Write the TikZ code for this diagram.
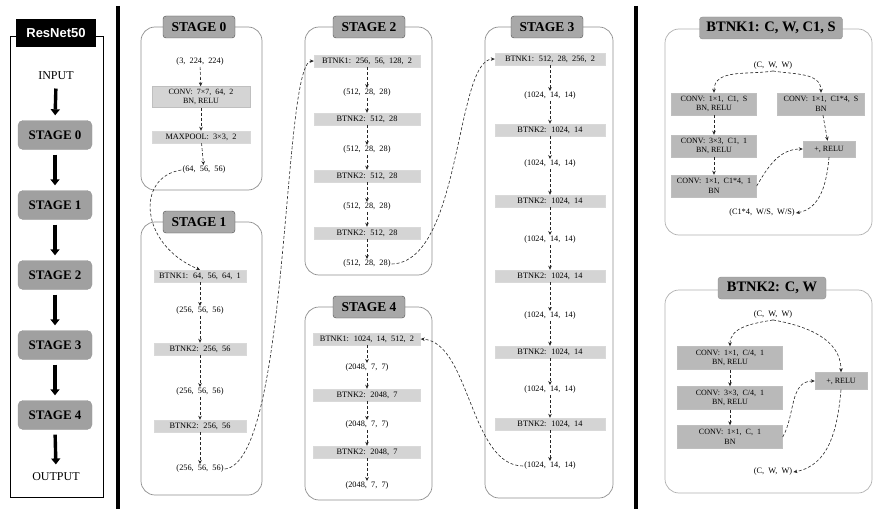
\documentclass[tikz,border=0pt]{standalone}
\usepackage{fontspec}
\setmainfont{Liberation Serif}
\newfontfamily\netfont{Liberation Sans}
\usetikzlibrary{arrows.meta,calc}
\definecolor{titlegray}{HTML}{A8A8A8}
\definecolor{layergray}{HTML}{D4D4D4}
\definecolor{convgray}{HTML}{B9B9B9}
\definecolor{framegray}{HTML}{8E8E8E}

\begin{document}
\begin{tikzpicture}[x=1pt,y=-1pt,
  panel/.style={draw=framegray, line width=0.7pt, rounded corners=14pt},
  stagetitle/.style={draw=black!70, fill=titlegray, rounded corners=3pt,
    minimum width=72pt, minimum height=22pt, inner sep=1pt,
    font=\fontsize{13.5}{13.5}\selectfont\bfseries},
  stagebox/.style={draw=black!40, fill=titlegray!95!black, rounded corners=5pt,
    minimum width=74pt, minimum height=29pt, inner sep=1pt,
    font=\fontsize{13}{13}\selectfont\bfseries},
  layer/.style={fill=layergray, draw=black!15, minimum height=12pt, inner sep=1pt,
    font=\fontsize{8.3}{8.3}\selectfont},
  conv/.style={fill=convgray, draw=black!25, minimum height=22pt, inner sep=1pt,
    align=center, font=\fontsize{8}{9.5}\selectfont},
  dims/.style={inner sep=1pt, font=\fontsize{8.3}{8.3}\selectfont},
  flow/.style={draw=black!85, line width=0.6pt, dash pattern=on 3pt off 2pt,
    -{Stealth[length=4pt,width=3.5pt]}},
  bigarrow/.style={line width=3.4pt, shorten <=5pt, shorten >=5pt,
    -{Triangle[length=6pt,width=9pt]}}]
\useasboundingbox (0,0) rectangle (879,511);

% separators
\draw[line width=4pt] (118,6) -- (118,509);
\draw[line width=4pt] (636,6) -- (636,509);

% overview
\draw[line width=0.8pt] (10,36) rectangle (103,497);
\node[fill=black, text=white, minimum width=80pt, minimum height=28pt, inner sep=1pt,
      font=\netfont\fontsize{13}{13}\selectfont\bfseries] (net) at (56,33) {ResNet50};
\node[font=\fontsize{12}{12}\selectfont] (input) at (56,76) {INPUT};
\foreach \i/\y in {0/135,1/205,2/275,3/345,4/415}
  \node[stagebox] (ov\i) at (55,\y) {STAGE \i};
\node[font=\fontsize{12}{12}\selectfont] (output) at (56,477) {OUTPUT};
\draw[bigarrow] (input.south) -- (ov0.north);
\draw[bigarrow] (ov0.south) -- (ov1.north);
\draw[bigarrow] (ov1.south) -- (ov2.north);
\draw[bigarrow] (ov2.south) -- (ov3.north);
\draw[bigarrow] (ov3.south) -- (ov4.north);
\draw[bigarrow] (ov4.south) -- (output.north);

% stage 0
\draw[panel] (141,27) rectangle (262,190);
\node[stagetitle] (t0) at (199,27) {STAGE 0};
\node[dims] (s0in) at (200,62) {(3, \ 224, \ 224)};
\node[conv, minimum width=98pt, minimum height=21pt, fill=layergray] (s0conv) at (201,97)
  {CONV: \ 7×7, \ 64, \ 2\\BN, RELU};
\node[layer, minimum width=98pt] (s0pool) at (201,137) {MAXPOOL: \ 3×3, \ 2};
\node[dims] (s0out) at (204,170) {(64, \ 56, \ 56)};
\draw[flow] (s0in) -- (s0conv);
\draw[flow] (s0conv) -- (s0pool);
\draw[flow] (s0pool) -- (s0out);

% stage 1
\draw[panel] (141,222) rectangle (262,495);
\node[stagetitle] (t1) at (199,222) {STAGE 1};
\node[layer, minimum width=92pt] (s1a) at (200,276) {BTNK1: \ 64, \ 56, \ 64, \ 1};
\node[dims] (s1b) at (200,311) {(256, \ 56, \ 56)};
\node[layer, minimum width=92pt] (s1c) at (200,349) {BTNK2: \ 256, \ 56};
\node[dims] (s1d) at (200,392) {(256, \ 56, \ 56)};
\node[layer, minimum width=92pt] (s1e) at (200,426) {BTNK2: \ 256, \ 56};
\node[dims] (s1f) at (200,469) {(256, \ 56, \ 56)};
\foreach \a/\b in {s1a/s1b,s1b/s1c,s1c/s1d,s1d/s1e,s1e/s1f}
  \draw[flow] (\a) -- (\b);

% stage 2
\draw[panel] (305,27) rectangle (432,275);
\node[stagetitle] (t2) at (369,27) {STAGE 2};
\node[layer, minimum width=106pt] (s2a) at (367,61) {BTNK1: \ 256, \ 56, \ 128, \ 2};
\node[dims] (s2b) at (367,93) {(512, \ 28, \ 28)};
\node[layer, minimum width=106pt] (s2c) at (367,119) {BTNK2: \ 512, \ 28};
\node[dims] (s2d) at (367,150) {(512, \ 28, \ 28)};
\node[layer, minimum width=106pt] (s2e) at (367,176) {BTNK2: \ 512, \ 28};
\node[dims] (s2f) at (367,207) {(512, \ 28, \ 28)};
\node[layer, minimum width=106pt] (s2g) at (367,233) {BTNK2: \ 512, \ 28};
\node[dims] (s2h) at (367,264) {(512, \ 28, \ 28)};
\foreach \a/\b in {s2a/s2b,s2b/s2c,s2c/s2d,s2d/s2e,s2e/s2f,s2f/s2g,s2g/s2h}
  \draw[flow] (\a) -- (\b);

% stage 4
\draw[panel] (305,307) rectangle (432,500);
\node[stagetitle] (t4) at (369,307) {STAGE 4};
\node[layer, minimum width=107pt] (s4a) at (367,339) {BTNK1: \ 1024, \ 14, \ 512, \ 2};
\node[dims] (s4b) at (367,368) {(2048, \ 7, \ 7)};
\node[layer, minimum width=107pt] (s4c) at (367,395) {BTNK2: \ 2048, \ 7};
\node[dims] (s4d) at (367,425) {(2048, \ 7, \ 7)};
\node[layer, minimum width=107pt] (s4e) at (367,452) {BTNK2: \ 2048, \ 7};
\node[dims] (s4f) at (367,486) {(2048, \ 7, \ 7)};
\foreach \a/\b in {s4a/s4b,s4b/s4c,s4c/s4d,s4d/s4e,s4e/s4f}
  \draw[flow] (\a) -- (\b);

% stage 3
\draw[panel] (485,27) rectangle (613,498);
\node[stagetitle] (t3) at (547,27) {STAGE 3};
\node[layer, minimum width=110pt] (s3a) at (550,59) {BTNK1: \ 512, \ 28, \ 256, \ 2};
\foreach \n/\y/\m/\z in {b/96/c/130,d/164/e/201,f/240/g/276,h/316/i/352,j/390/k/424}
  {\node[dims] (s3\n) at (550,\y) {(1024, \ 14, \ 14)};
   \node[layer, minimum width=110pt] (s3\m) at (550,\z) {BTNK2: \ 1024, \ 14};}
\node[dims] (s3l) at (550,466) {(1024, \ 14, \ 14)};
\foreach \a/\b in {s3a/s3b,s3b/s3c,s3c/s3d,s3d/s3e,s3e/s3f,s3f/s3g,s3g/s3h,s3h/s3i,s3i/s3j,s3j/s3k,s3k/s3l}
  \draw[flow] (\a) -- (\b);

% links between stages
\draw[flow] (s0out.west) .. controls (135,177) and (140,245) .. (s1a.north);
\draw[flow] (s1f.east) .. controls (290,463) and (282,62) .. (s2a.west);
\draw[flow] (s2h.east) .. controls (462,262) and (455,60) .. (s3a.west);
\draw[flow] (s3l.west) .. controls (470,466) and (470,342) .. (s4a.east);

% BTNK1 block
\draw[panel, draw=framegray!70] (665,29) rectangle (872,235);
\node[stagetitle, minimum width=143pt, minimum height=22pt, draw=black!45,
      font=\fontsize{14.5}{14.5}\selectfont\bfseries] (k1) at (771,28) {BTNK1: C, W, C1, S};
\node[dims] (k1in) at (773,66) {(C, \ W, \ W)};
\node[conv, minimum width=85pt] (k1c1) at (714,104) {CONV: \ 1×1, \ C1, \ S\\BN, RELU};
\node[conv, minimum width=87pt] (k1c4) at (821,104) {CONV: \ 1×1, \ C1*4, \ S\\BN};
\node[conv, minimum width=85pt] (k1c2) at (714,146) {CONV: \ 3×3, \ C1, \ 1\\BN, RELU};
\node[conv, minimum width=85pt] (k1c3) at (714,186) {CONV: \ 1×1, \ C1*4, \ 1\\BN};
\node[conv, minimum width=52pt, minimum height=16pt] (k1add) at (829,149) {+, RELU};
\node[dims] (k1out) at (762,213) {(C1*4, \ W/S, \ W/S)};
\draw[flow] (k1in.south) to[out=190,in=90] (k1c1.north);
\draw[flow] (k1in.south) to[out=-10,in=90] (k1c4.north);
\draw[flow] (k1c1) -- (k1c2);
\draw[flow] (k1c2) -- (k1c3);
\draw[flow] (k1c4) -- (k1add);
\draw[flow] (k1c3.east) to[out=60,in=180] (k1add.west);
\draw[flow] (k1add.south) to[out=-95,in=10] (k1out.east);

% BTNK2 block
\draw[panel, draw=framegray!70] (665,290) rectangle (872,493);
\node[stagetitle, minimum width=108pt, minimum height=22pt, draw=black!45,
      font=\fontsize{14.5}{14.5}\selectfont\bfseries] (k2) at (772,288) {BTNK2: C, W};
\node[dims] (k2in) at (773,315) {(C, \ W, \ W)};
\node[conv, minimum width=105pt, minimum height=23pt] (k2c1) at (730,358) {CONV: \ 1×1, \ C/4, \ 1\\BN, RELU};
\node[conv, minimum width=105pt, minimum height=23pt] (k2c2) at (730,398) {CONV: \ 3×3, \ C/4, \ 1\\BN, RELU};
\node[conv, minimum width=105pt, minimum height=23pt] (k2c3) at (730,437) {CONV: \ 1×1, \ C, \ 1\\BN};
\node[conv, minimum width=52pt, minimum height=17pt] (k2add) at (841,381) {+, RELU};
\node[dims] (k2out) at (773,472) {(C, \ W, \ W)};
\draw[flow] (k2in.south) to[out=190,in=90] (k2c1.north);
\draw[flow] (k2in.south) to[out=-10,in=90] (k2add.north);
\draw[flow] (k2c1) -- (k2c2);
\draw[flow] (k2c2) -- (k2c3);
\draw[flow] (k2c3.east) to[out=60,in=180] (k2add.west);
\draw[flow] (k2add.south) to[out=-95,in=10] (k2out.east);
\end{tikzpicture}
\end{document}
